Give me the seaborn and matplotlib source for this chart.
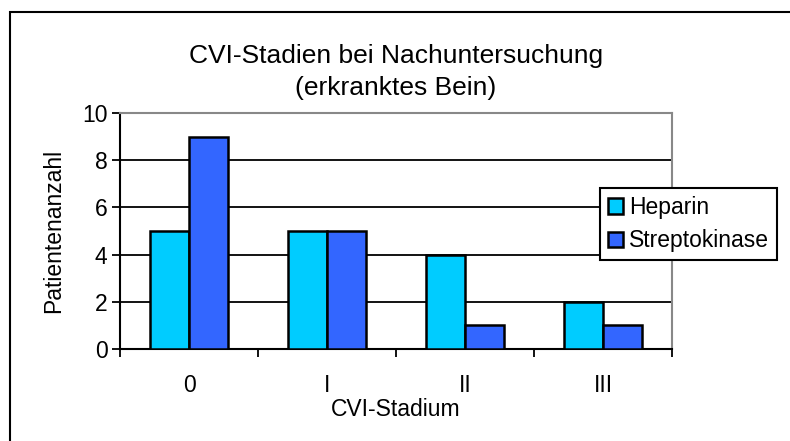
import pandas as pd
import matplotlib.pyplot as plt
import seaborn as sns
from matplotlib.patches import Rectangle
from matplotlib.ticker import FixedLocator

# data
stadien = ['0', 'I', 'II', 'III']
heparin = [5, 5, 4, 2]
streptokinase = [9, 5, 1, 1]
gruppen = ['Heparin', 'Streptokinase']
farben = ['#00CCFF', '#3366FF']

df = pd.DataFrame({
    'Stadium': stadien * 2,
    'Anzahl': heparin + streptokinase,
    'Gruppe': [gruppen[0]] * 4 + [gruppen[1]] * 4,
})

sns.set_style('white')
plt.rcParams['font.family'] = ['Liberation Sans', 'DejaVu Sans']
plt.rcParams.update({'text.color': 'black', 'axes.labelcolor': 'black',
                     'xtick.color': 'black', 'ytick.color': 'black'})
fs = 16.5

fig = plt.figure(figsize=(7.9, 4.41), dpi=100)
ax = fig.add_axes([120/790, 1 - 349/441, (672-120)/790, (349-113)/441])

sns.barplot(data=df, x='Stadium', y='Anzahl', hue='Gruppe', palette=farben,
            saturation=1, width=0.56, edgecolor='black', linewidth=1.8,
            ax=ax, zorder=3)

ax.set_ylim(0, 10)
ax.set_xlim(-0.5, 3.5)
ax.set_yticks([0, 2, 4, 6, 8, 10])
ax.yaxis.grid(True, color='black', linewidth=1.3, zorder=0)
ax.set_axisbelow(True)

ax.xaxis.set_minor_locator(FixedLocator([-0.5, 0.5, 1.5, 2.5, 3.5]))
ax.tick_params(axis='x', which='major', length=0, pad=18, labelsize=fs)
ax.tick_params(axis='x', which='minor', length=6, width=1.3, color='black',
               direction='out', bottom=True)
ax.tick_params(axis='y', length=6, width=1.3, color='black', direction='out',
               left=True, pad=3, labelsize=fs)

for s in ['left', 'bottom']:
    ax.spines[s].set_color('black')
    ax.spines[s].set_linewidth(1.5)
for s in ['top', 'right']:
    ax.spines[s].set_color('#888888')
    ax.spines[s].set_linewidth(1.5)

ax.set_xlabel('CVI-Stadium', fontsize=fs, labelpad=1)
ax.set_ylabel('Patientenanzahl', fontsize=fs, labelpad=12)
ax.set_title('CVI-Stadien bei Nachuntersuchung\n(erkranktes Bein)',
             fontsize=19, pad=13, linespacing=1.4, color='black')

leg = ax.legend(loc='upper left', bbox_to_anchor=(600/790, 1 - 188/441),
                bbox_transform=fig.transFigure, borderaxespad=0, fontsize=fs,
                fancybox=False, framealpha=1, edgecolor='black',
                handlelength=0.65, handleheight=0.65, handletextpad=0.25,
                borderpad=0.35, labelspacing=0.45, title=None)
leg.get_frame().set_linewidth(1.5)

fig.add_artist(Rectangle((10/790, -0.1), 1.2, 1.1 - 12/441, transform=fig.transFigure,
                         fill=False, edgecolor='black', linewidth=1.5))

fig.savefig('out.png', dpi=100)
